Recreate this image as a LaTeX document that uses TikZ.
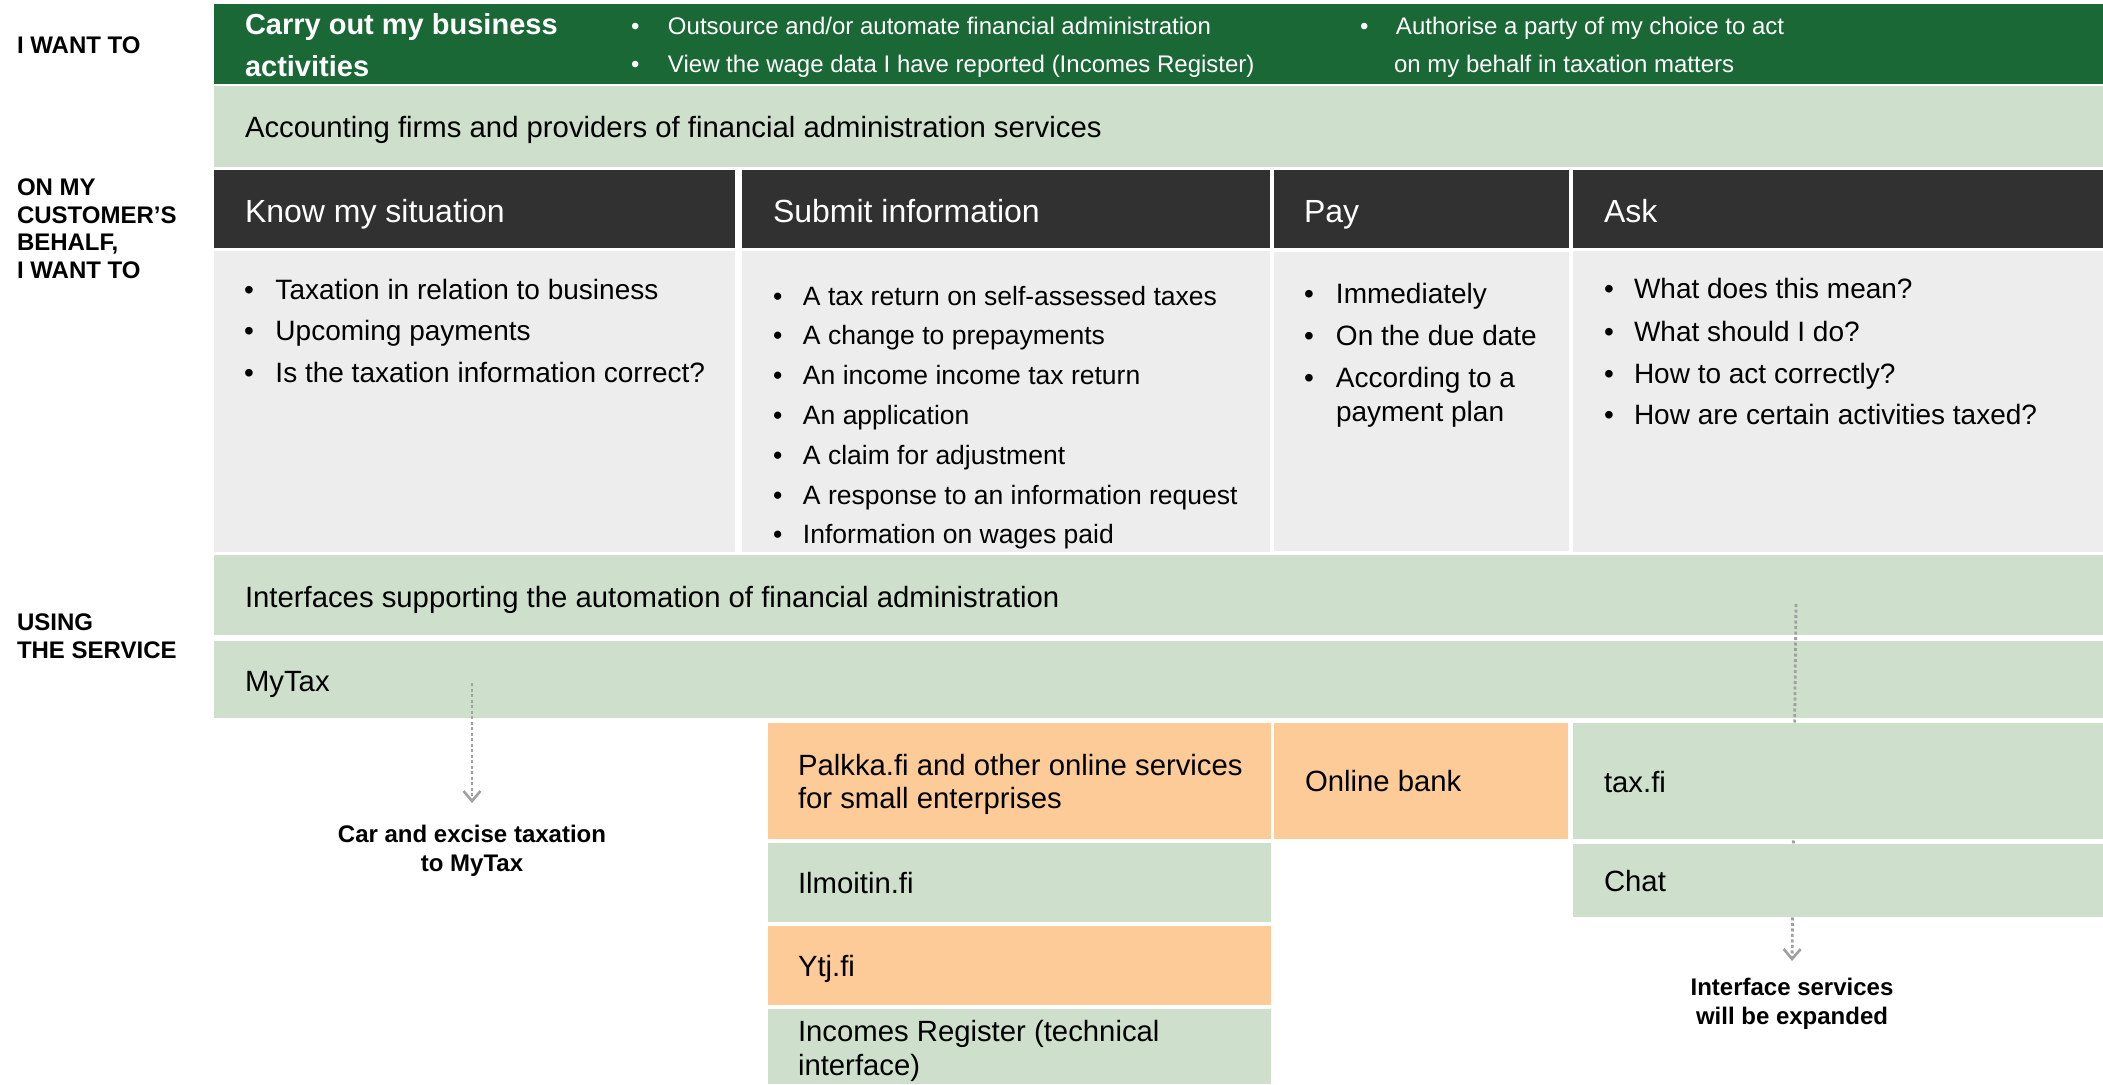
\documentclass[tikz,border=0pt]{standalone}
\usepackage{fontspec}
\setmainfont{Liberation Sans}
\usetikzlibrary{arrows.meta}
\definecolor{dkgreen}{RGB}{26,104,54}
\definecolor{ltgreen}{RGB}{206,224,204}
\definecolor{hdr}{RGB}{49,49,49}
\definecolor{bodyg}{RGB}{237,237,237}
\definecolor{orng}{RGB}{253,203,152}
\definecolor{argrey}{RGB}{160,160,160}
\newcommand\bx[6]{\node[blk, fill=#6, minimum width={#4-#2}, minimum height={#5-#3}] (#1) at (#2,#3) {};}
\newcommand\bul[6]{\node[tl,font=#4] (#1) at (#2,#3) {\makebox[#5pt][l]{•}#6};}
\begin{document}
\begin{tikzpicture}[x=1pt,y=-1pt,
  blk/.style={inner sep=0pt, outer sep=0pt, anchor=north west, draw=none},
  tl/.style={anchor=base west, inner sep=0pt, outer sep=0pt},
  lab/.style={tl, font=\fontsize{24}{28}\selectfont\bfseries},
  ttl/.style={tl, text=white, font=\fontsize{29}{34}\selectfont\bfseries},
  hd/.style={tl, text=white, font=\fontsize{32}{38}\selectfont},
  txt/.style={tl, font=\fontsize{29.3}{34}\selectfont},
  note/.style={anchor=base, inner sep=0pt, font=\fontsize{24}{28}\selectfont\bfseries},
  dotarrow/.style={draw=argrey, line width=2.8pt, dash pattern=on 3pt off 2.5pt,
    -{Straight Barb[length=10pt,width=17pt,line width=2.6pt]}}
]
\useasboundingbox (0,0) rectangle (2103,1084);
\fill[white] (0,0) rectangle (2103,1084);

% ---------- upper bands ----------
\bx{want}{214}{4}{2103}{84}{dkgreen}
\bx{acc}{214}{86}{2103}{167}{ltgreen}
\bx{hK}{214}{170}{735}{248}{hdr}
\bx{hS}{742}{170}{1270}{248}{hdr}
\bx{hP}{1274}{170}{1569}{248}{hdr}
\bx{hA}{1573}{170}{2103}{248}{hdr}
\bx{bK}{214}{251}{735}{552}{bodyg}
\bx{bS}{742}{251}{1270}{552}{bodyg}
\bx{bP}{1274}{252}{1569}{551}{bodyg}
\bx{bA}{1573}{251}{2103}{552}{bodyg}
\bx{ifc}{214}{555}{2103}{635}{ltgreen}
\bx{mytax}{214}{641}{2103}{718}{ltgreen}

% ---------- dotted arrows ----------
\coordinate (a1s) at (472,683);
\coordinate (a1e) at (472,803);
\coordinate (a2s) at (1796,604);
\coordinate (a2e) at (1792,961);
\draw[dotarrow] (a1s) -- (a1e);
\draw[dotarrow] (a2s) -- (a2e);

% ---------- lower boxes ----------
\bx{palkka}{768}{723}{1271}{839}{orng}
\bx{bank}{1274}{723}{1568}{839}{orng}
\bx{taxfi}{1573}{723}{2103}{839}{ltgreen}
\bx{ilm}{768}{843}{1271}{922}{ltgreen}
\bx{chat}{1573}{844}{2103}{917}{ltgreen}
\bx{ytj}{768}{926}{1271}{1005}{orng}
\bx{increg}{768}{1009}{1271}{1084}{ltgreen}

% ---------- left labels ----------
\node[lab] (l1) at (17,53) {I WANT TO};
\node[lab] (l2a) at (17,195) {ON MY};
\node[lab] (l2b) at (17,223) {CUSTOMER’S};
\node[lab] (l2c) at (17,250) {BEHALF,};
\node[lab] (l2d) at (17,278) {I WANT TO};
\node[lab] (l3a) at (17,630) {USING};
\node[lab] (l3b) at (17,658) {THE SERVICE};

% ---------- top band texts ----------
\node[ttl] (t1) at (245,34) {Carry out my business};
\node[ttl] (t2) at (245,76) {activities};
\bul{w1}{631}{34}{\fontsize{24}{28}\selectfont\color{white}}{37}{Outsource and/or automate financial administration}
\bul{w2}{631}{72}{\fontsize{24}{28}\selectfont\color{white}}{37}{View the wage data I have reported (Incomes Register)}
\bul{w3}{1360}{34}{\fontsize{24}{28}\selectfont\color{white}}{36}{Authorise a party of my choice to act}
\node[tl, text=white, font=\fontsize{24}{28}\selectfont] (w3b) at (1394,72) {on my behalf in taxation matters};

\node[txt] (acct) at (245,137) {Accounting firms and providers of financial administration services};

% ---------- headers ----------
\node[hd] (hKt) at (245,222) {Know my situation};
\node[hd] (hSt) at (773,222) {Submit information};
\node[hd] (hPt) at (1304,222) {Pay};
\node[hd] (hAt) at (1604,222) {Ask};

% ---------- bullets ----------
\bul{k1}{244}{299}{\fontsize{28}{34}\selectfont}{31.5}{Taxation in relation to business}
\bul{k2}{244}{340.5}{\fontsize{28}{34}\selectfont}{31.5}{Upcoming payments}
\bul{k3}{244}{382}{\fontsize{28}{34}\selectfont}{31.5}{Is the taxation information correct?}

\bul{s1}{773}{305}{\fontsize{26.5}{32}\selectfont}{30}{A tax return on self-assessed taxes}
\bul{s2}{773}{344.8}{\fontsize{26.5}{32}\selectfont}{30}{A change to prepayments}
\bul{s3}{773}{384.6}{\fontsize{26.5}{32}\selectfont}{30}{An income income tax return}
\bul{s4}{773}{424.4}{\fontsize{26.5}{32}\selectfont}{30}{An application}
\bul{s5}{773}{464.2}{\fontsize{26.5}{32}\selectfont}{30}{A claim for adjustment}
\bul{s6}{773}{504}{\fontsize{26.5}{32}\selectfont}{30}{A response to an information request}
\bul{s7}{773}{543.8}{\fontsize{26.5}{32}\selectfont}{30}{Information on wages paid}

\bul{p1}{1304}{303}{\fontsize{28}{34}\selectfont}{32}{Immediately}
\bul{p2}{1304}{345}{\fontsize{28}{34}\selectfont}{32}{On the due date}
\bul{p3}{1304}{387}{\fontsize{28}{34}\selectfont}{32}{According to a}
\node[tl, font=\fontsize{28}{34}\selectfont] (p3b) at (1336,421) {payment plan};

\bul{q1}{1604}{298}{\fontsize{28}{34}\selectfont}{30}{What does this mean?}
\bul{q2}{1604}{341}{\fontsize{28}{34}\selectfont}{30}{What should I do?}
\bul{q3}{1604}{383}{\fontsize{28}{34}\selectfont}{30}{How to act correctly?}
\bul{q4}{1604}{424}{\fontsize{28}{34}\selectfont}{30}{How are certain activities taxed?}

% ---------- service texts ----------
\node[txt] (ifct) at (245,607) {Interfaces supporting the automation of financial administration};
\node[txt] (myt) at (245,691) {MyTax};
\node[txt] (pk1) at (798,775) {Palkka.fi and other online services};
\node[txt] (pk2) at (798,808) {for small enterprises};
\node[txt] (bkt) at (1305,791) {Online bank};
\node[txt] (txt) at (1604,792) {tax.fi};
\node[txt] (ilt) at (798,893) {Ilmoitin.fi};
\node[txt] (ytt) at (798,976) {Ytj.fi};
\node[txt] (ir1) at (798,1041) {Incomes Register (technical};
\node[txt] (ir2) at (798,1075) {interface)};
\node[txt] (cht) at (1604,891) {Chat};

% ---------- notes ----------
\node[note] (n1a) at (472,842) {Car and excise taxation};
\node[note] (n1b) at (472,871) {to MyTax};
\node[note] (n2a) at (1792,995) {Interface services};
\node[note] (n2b) at (1792,1024) {will be expanded};
\end{tikzpicture}
\end{document}
